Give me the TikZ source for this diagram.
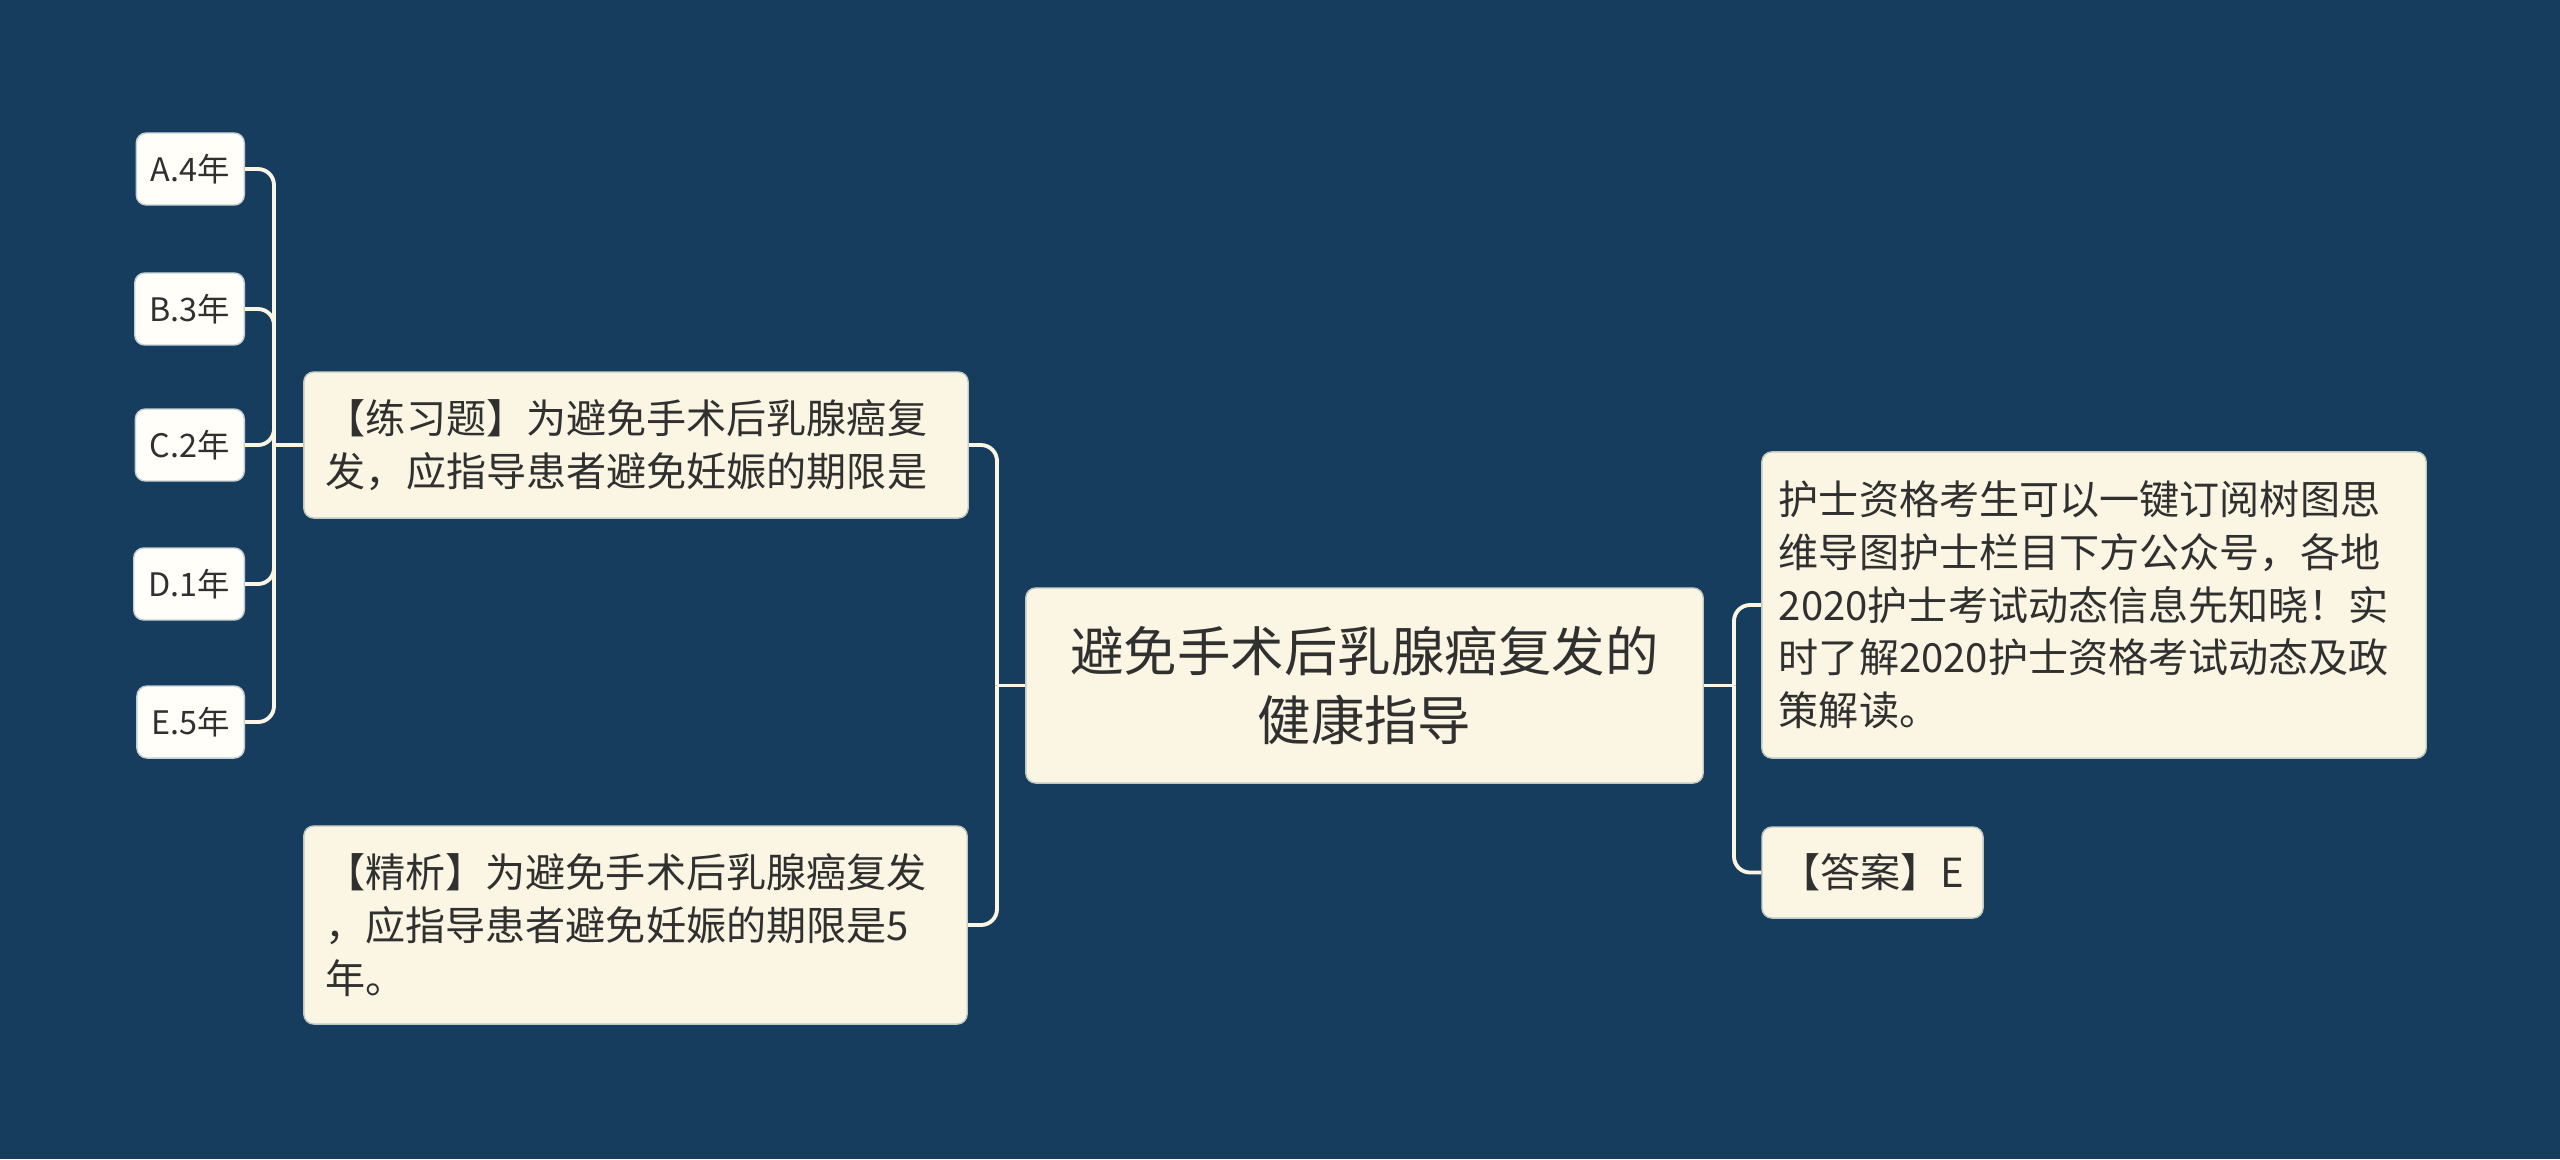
\documentclass[tikz,border=0pt]{standalone}
\usepackage{fontspec}
\newfontfamily\cjk{Noto Sans CJK SC}
\usetikzlibrary{calc}
\definecolor{mapnavy}{RGB}{23,61,94}
\definecolor{mapcream}{RGB}{250,246,227}
\definecolor{mapwhite}{RGB}{255,254,249}
\definecolor{mapink}{RGB}{48,48,48}
\tikzset{
  topic/.style={fill=mapcream, draw=mapcream!75!mapnavy, line width=0.4pt,
    rounded corners=0.1cm, text=mapink, inner sep=0pt, align=left,
    font=\cjk\fontsize{11.4pt}{15pt}\selectfont},
  option/.style={fill=mapwhite, draw=mapwhite!75!mapnavy, line width=0.4pt,
    rounded corners=0.1cm, text=mapink, anchor=east, inner xsep=0.145cm,
    minimum height=0.72cm, font=\cjk\fontsize{9.2pt}{11pt}\selectfont},
  link/.style={draw=mapcream, line width=1.1pt, rounded corners=0.16cm}
}
\begin{document}
\begin{tikzpicture}[x=0.01cm,y=-0.01cm]
\fill[mapnavy] (0,0) rectangle (2560,1159);
\useasboundingbox (0,0) rectangle (2560,1159);
\node[topic, minimum width=6.77cm, minimum height=1.95cm, text width=6.2cm, align=center,
  font=\cjk\fontsize{15.2pt}{19.6pt}\selectfont] (root) at (1364.5,685.5)
  {避免手术后乳腺癌复发的\\健康指导};
\node[topic, minimum width=6.64cm, minimum height=1.46cm, text width=6.2cm] (quiz) at (636,445)
  {【练习题】为避免手术后乳腺癌复\\发，应指导患者避免妊娠的期限是};
\node[topic, minimum width=6.63cm, minimum height=1.98cm, text width=6.2cm] (note) at (635.5,925)
  {【精析】为避免手术后乳腺癌复发\\，应指导患者避免妊娠的期限是5\\年。};
\node[topic, minimum width=6.64cm, minimum height=3.06cm, text width=6.3cm] (info) at (2094,605)
  {护士资格考生可以一键订阅树图思\\维导图护士栏目下方公众号，各地\\2020护士考试动态信息先知晓！实\\时了解2020护士资格考试动态及政\\策解读。};
\node[topic, minimum width=2.21cm, minimum height=0.91cm] (answer) at (1872.5,872.5)
  {【答案】E};
\foreach \n/\t/\y in {A/A.4年/169,B/B.3年/309,C/C.2年/445,D/D.1年/584,E/E.5年/722}
  \node[option] (opt\n) at (245,\y) {\t};
\coordinate (jq) at (274,445);
\coordinate (jr) at (997,685.5);
\coordinate (jx) at (1734,685.5);
\foreach \n in {A,B,C,D,E}
  \draw[link] (opt\n.east) -| (jq);
\draw[link] (jq) -- (quiz.west);
\draw[link] (root.west) -- (jr);
\draw[link] (jr) |- (quiz.east);
\draw[link] (jr) |- (note.east);
\draw[link] (root.east) -- (jx);
\draw[link] (jx) |- (info.west);
\draw[link] (jx) |- (answer.west);
\end{tikzpicture}
\end{document}
